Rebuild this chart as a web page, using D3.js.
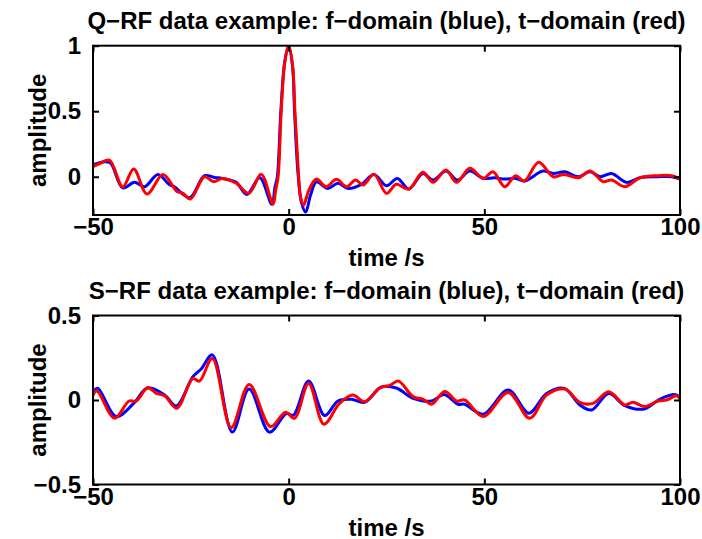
<!DOCTYPE html>
<html>
<head>
<meta charset="utf-8">
<script src="https://cdn.jsdelivr.net/npm/d3@7/dist/d3.min.js"></script>
<style>
  html, body { margin: 0; padding: 0; background: #fff; }
  svg { display: block; }
  text { font-family: "Liberation Sans", Arial, Helvetica, sans-serif; font-weight: bold; }
</style>
</head>
<body>
<svg id="chart" width="702" height="539"></svg>
<script>
// Receiver-function traces: [time (s), amplitude]
const qBlue = [
  [-50, 0.09], [-47, 0.115], [-45.5, 0.105], [-42.4, -0.085], [-39.4, -0.043], [-36.8, -0.076],
  [-33.4, 0.018], [-30.5, -0.06], [-29.2, -0.076], [-25.3, -0.16], [-21.5, 0.008], [-19, -0.005],
  [-16.9, -0.013], [-13.4, -0.043], [-10.7, -0.135], [-7.4, -0.008], [-4.3, -0.21], [-3.5, -0.08],
  [-2.9, 0.0], [-2.0, 0.5], [-1.0, 0.88], [0, 1.0], [1.0, 0.84], [1.5, 0.5], [2.4, 0.02],
  [3.3, -0.2], [4.35, -0.27], [5.6, -0.14], [7.1, -0.038], [10.0, -0.089], [12.6, -0.05],
  [15.2, -0.089], [18.6, -0.058], [21.8, 0.018], [25.0, -0.069], [27.8, -0.013], [30.7, -0.094],
  [34.3, 0.025], [36.9, -0.025], [40.2, 0.043], [43.1, -0.025], [46.3, 0.043], [49.7, -0.012],
  [52.6, -0.008], [55.2, -0.018], [58.0, -0.013], [60.2, -0.033], [65.0, 0.043], [67.6, 0.025],
  [70.6, 0.038], [74.0, 0.0], [77.0, 0.038], [79.6, 0.0], [82.5, 0.025], [86.4, -0.043],
  [89.8, -0.008], [94.5, 0.0], [97.9, 0.0], [100, -0.018]
];
const qRed = [
  [-50, 0.076], [-48.3, 0.10], [-45.8, 0.127], [-42.4, -0.076], [-39.6, 0.059], [-36.2, -0.132],
  [-32.1, 0.018], [-28.6, -0.11], [-27.0, -0.127], [-25.1, -0.17], [-21.5, 0.0], [-19.2, -0.038],
  [-17.0, -0.013], [-13.4, -0.05], [-10.2, -0.127], [-7.0, 0.018], [-4.0, -0.21], [-3.3, -0.10],
  [-2.7, 0.0], [-1.9, 0.5], [-1.0, 0.87], [0, 1.0], [1.0, 0.85], [1.6, 0.5], [2.5, 0.03],
  [3.0, -0.15], [3.8, -0.216], [5.2, -0.1], [7.1, -0.018], [9.6, -0.076], [12.2, -0.02],
  [14.8, -0.076], [17.1, -0.025], [19.0, -0.063], [21.8, 0.018], [25.0, -0.127], [27.5, -0.058],
  [30.7, -0.094], [34.3, 0.034], [36.9, -0.043], [40.2, 0.051], [42.9, -0.043], [46.3, 0.064],
  [49.7, -0.012], [52.2, 0.038], [55.2, -0.076], [58.0, 0.008], [60.2, -0.033], [63.9, 0.11],
  [67.6, 0.0], [70.4, 0.018], [74.0, -0.008], [77.0, 0.043], [80.4, -0.038], [82.5, -0.025],
  [85.9, -0.076], [89.8, -0.008], [94.5, 0.008], [97.9, 0.008], [100, -0.018]
];
const sBlue = [
  [-50, 0.049], [-48.8, 0.069], [-44.1, -0.098], [-39.8, -0.025], [-36.0, 0.072], [-31.7, 0.029],
  [-28.7, -0.035], [-24.5, 0.137], [-22.3, 0.185], [-19.5, 0.267], [-14.4, -0.19], [-10.1, 0.065],
  [-4.9, -0.19], [-0.6, -0.08], [1.2, -0.09], [5.1, 0.112], [9.2, -0.092], [12.6, -0.006],
  [16.0, 0.004], [19.4, -0.014], [23.7, 0.077], [27.5, 0.071], [31.8, 0.01], [36.5, -0.006],
  [39.7, 0.032], [43.3, -0.025], [45.0, -0.025], [49.7, -0.084], [56.1, 0.059], [61.4, -0.078],
  [65.9, 0.039], [70.4, 0.069], [74.4, -0.029], [77.4, -0.059], [81.8, 0.039], [85.9, -0.033],
  [90.9, -0.053], [94.8, 0.004], [98.7, 0.032], [100, 0.016]
];
const sRed = [
  [-50, 0.029], [-49.0, 0.053], [-44.5, -0.108], [-40.8, -0.006], [-39.0, -0.006], [-36.0, 0.072],
  [-33.8, 0.039], [-31.7, 0.025], [-28.6, -0.049], [-24.5, 0.127], [-22.8, 0.112], [-19.5, 0.245],
  [-14.7, -0.163], [-10.1, 0.092], [-4.6, -0.157], [-0.8, -0.072], [1.5, -0.108], [5.1, 0.098],
  [9.0, -0.143], [13.0, -0.02], [16.4, 0.029], [19.4, -0.01], [23.3, 0.072], [25.8, 0.086],
  [28.0, 0.112], [31.8, 0.02], [34.4, 0.004], [36.5, -0.025], [39.9, 0.051], [42.9, -0.006],
  [45.0, 0.0], [49.7, -0.098], [56.1, 0.045], [61.6, -0.108], [65.9, 0.029], [70.6, 0.065],
  [74.4, -0.014], [77.8, -0.02], [81.8, 0.049], [85.9, -0.029], [88.0, -0.014], [91.0, -0.039],
  [94.4, -0.006], [96.6, 0.0], [99.1, 0.025], [100, 0.006]
];

const xTicks = [-50, 0, 50, 100];
const qYTicks = [0, 0.5, 1];
const sYTicks = [-0.5, 0, 0.5];
const qTitle = "Q\u2212RF data example: f\u2212domain (blue), t\u2212domain (red)";
const sTitle = "S\u2212RF data example: f\u2212domain (blue), t\u2212domain (red)";

const FONT = 24;
const svg = d3.select("#chart");
const fmt = v => (v < 0 ? "\u2212" : "") + String(Math.abs(v));

function panel(opts) {
  const { top, bottom, yDomain, yTicks, series, title, id } = opts;
  const left = 93, right = 680;
  const x = d3.scaleLinear().domain([-50, 100]).range([left, right]);
  const y = d3.scaleLinear().domain(yDomain).range([bottom, top]);
  const g = svg.append("g");

  g.append("clipPath").attr("id", id)
    .append("rect").attr("x", left).attr("y", top)
    .attr("width", right - left).attr("height", bottom - top);

  const line = d3.line().x(d => x(d[0])).y(d => y(d[1]))
    .curve(d3.curveCatmullRom.alpha(0.5));

  const plot = g.append("g").attr("clip-path", `url(#${id})`);
  series.forEach(s => {
    plot.append("path").datum(s.data)
      .attr("d", line).attr("fill", "none")
      .attr("stroke", s.color).attr("stroke-width", 3)
      .attr("stroke-linejoin", "round").attr("stroke-linecap", "round");
  });

  const tickLen = 6;
  const axisStyle = sel => {
    sel.select(".domain").remove();
    sel.selectAll(".tick line").attr("stroke", "#000").attr("stroke-width", 2);
    sel.selectAll(".tick text").attr("fill", "#000").style("font-size", FONT + "px")
      .style("font-weight", "bold").style("font-family", "'Liberation Sans', Arial, sans-serif");
  };

  // bottom axis with labels, ticks pointing inward
  g.append("g").attr("transform", `translate(0,${bottom})`)
    .call(d3.axisBottom(x).tickValues(xTicks).tickSize(-tickLen).tickPadding(3).tickFormat(fmt))
    .call(axisStyle);
  // top axis ticks only
  g.append("g").attr("transform", `translate(0,${top})`)
    .call(d3.axisTop(x).tickValues(xTicks).tickSize(-tickLen).tickFormat(""))
    .call(axisStyle);
  // left axis with labels
  g.append("g").attr("transform", `translate(${left},0)`)
    .call(d3.axisLeft(y).tickValues(yTicks).tickSize(-tickLen).tickPadding(12).tickFormat(fmt))
    .call(axisStyle);
  // right axis ticks only
  g.append("g").attr("transform", `translate(${right},0)`)
    .call(d3.axisRight(y).tickValues(yTicks).tickSize(-tickLen).tickFormat(""))
    .call(axisStyle);

  // box
  g.append("rect").attr("x", left).attr("y", top)
    .attr("width", right - left).attr("height", bottom - top)
    .attr("fill", "none").attr("stroke", "#000").attr("stroke-width", 2);

  g.append("text").attr("x", (left + right) / 2).attr("y", top - 17)
    .attr("text-anchor", "middle").style("font-size", FONT + "px").text(title);

  g.append("text").attr("x", (left + right) / 2).attr("y", bottom + 51)
    .attr("text-anchor", "middle").style("font-size", FONT + "px").text("time /s");

  g.append("text")
    .attr("transform", `translate(${left - 47},${(top + bottom) / 2}) rotate(-90)`)
    .attr("text-anchor", "middle").style("font-size", FONT + "px").text("amplitude");
}

panel({
  id: "clipQ", top: 45.7, bottom: 215, yDomain: [-0.292, 1], yTicks: qYTicks, title: qTitle,
  series: [{ data: qBlue, color: "#0000ff" }, { data: qRed, color: "#ff0000" }]
});
panel({
  id: "clipS", top: 315.5, bottom: 484.5, yDomain: [-0.5, 0.5], yTicks: sYTicks, title: sTitle,
  series: [{ data: sBlue, color: "#0000ff" }, { data: sRed, color: "#ff0000" }]
});
</script>
</body>
</html>
